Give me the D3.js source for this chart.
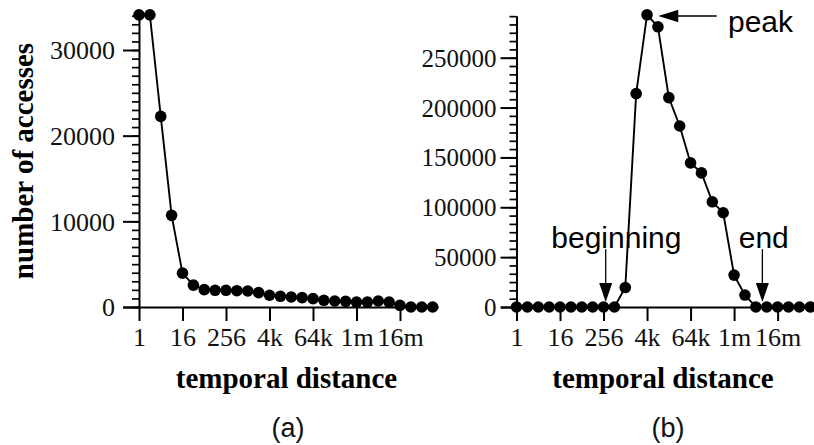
<!DOCTYPE html>
<html>
<head>
<meta charset="utf-8">
<script src="https://cdn.jsdelivr.net/npm/d3@7"></script>
<style>
  html, body { margin: 0; padding: 0; background: #fff; }
  svg { display: block; }
</style>
</head>
<body>
<script>
// ---------- data ----------
const exponents = [0,1,2,3,4,5,6,7,8,9,10,11,12,13,14,15,16,17,18,19,20,21,22,23,24,25,26,27];
const seriesA = [34100, 34100, 22250, 10700, 3950, 2550, 2030, 1950, 1950, 1900, 1870, 1680, 1370, 1250,
                 1170, 1090, 980, 780, 700, 660, 580, 580, 700, 580, 190, 0, 0, 0];
const seriesB = [0, 0, 0, 0, 0, 0, 0, 0, 0, 0, 19500, 214000, 293000, 281000, 210000, 181500, 144500,
                 134500, 105500, 94500, 32000, 12000, 0, 0, 0, 0, 0, 0];
const xTickExponents = [0, 4, 8, 12, 16, 20, 24];
const xTickLabels = ["1", "16", "256", "4k", "64k", "1m", "16m"];
const yTicksA = [0, 10000, 20000, 30000];
const yTicksB = [0, 50000, 100000, 150000, 200000, 250000];
const panelLabels = ["(a)", "(b)"];
const yTitle = "number of accesses";
const xTitle = "temporal distance";

// ---------- drawing ----------
const W = 814, H = 445;
const svg = d3.select("body").append("svg").attr("width", W).attr("height", H);
svg.append("rect").attr("width", W).attr("height", H).attr("fill", "#fff");

const serif = "'Liberation Serif', 'Times New Roman', serif";
const sans = "'Liberation Sans', Arial, sans-serif";

function drawPanel(opt) {
  const g = svg.append("g");
  const x = opt.x, y = opt.y;

  // minor y ticks
  g.append("g")
    .attr("transform", `translate(${x(0)},0)`)
    .call(d3.axisLeft(y).tickValues(opt.minorTicks).tickSize(7).tickSizeOuter(0).tickFormat(""))
    .call(a => a.select(".domain").remove())
    .call(a => a.selectAll("line").attr("stroke", "#000").attr("stroke-width", 1.7));

  // major y ticks + domain
  g.append("g")
    .attr("transform", `translate(${x(0)},0)`)
    .attr("font-family", serif)
    .call(d3.axisLeft(y).tickValues(opt.yTicks).tickSize(16).tickSizeOuter(0)
      .tickPadding(opt.yPad).tickFormat(d3.format("d")))
    .call(a => a.select(".domain").attr("stroke", "#000").attr("stroke-width", 2))
    .call(a => a.selectAll("line").attr("stroke", "#000").attr("stroke-width", 2))
    .call(a => a.selectAll("text").style("font-family", serif).style("font-size", opt.yFont + "px")
      .attr("fill", "#111").attr("dy", "0.34em"));

  // x axis
  g.append("g")
    .attr("transform", `translate(0,${y(0)})`)
    .call(d3.axisBottom(x).tickValues(xTickExponents).tickSize(14).tickSizeOuter(0)
      .tickFormat((d, i) => xTickLabels[i]))
    .call(a => a.select(".domain").attr("stroke", "#000").attr("stroke-width", 2))
    .call(a => a.selectAll("line").attr("stroke", "#000").attr("stroke-width", 2))
    .call(a => a.selectAll("text").style("font-family", serif).style("font-size", "26px")
      .attr("fill", "#111").attr("y", 39).attr("dy", null));

  // line
  const line = d3.line().x((d, i) => x(exponents[i])).y(d => y(d));
  g.append("path").datum(opt.series)
    .attr("d", line).attr("fill", "none").attr("stroke", "#000").attr("stroke-width", 1.9);

  // markers
  g.selectAll("circle.pt").data(opt.series).join("circle")
    .attr("class", "pt")
    .attr("cx", (d, i) => x(exponents[i]))
    .attr("cy", d => y(d))
    .attr("r", 5.8)
    .attr("fill", "#000");

  // x title
  g.append("text")
    .attr("x", opt.titleX).attr("y", 388)
    .attr("text-anchor", "middle")
    .style("font-family", serif).style("font-weight", "bold").style("font-size", "29px")
    .attr("fill", "#000")
    .text(xTitle);

  // panel label
  g.append("text")
    .attr("x", opt.labelX).attr("y", 437)
    .attr("text-anchor", "middle")
    .style("font-family", sans).style("font-size", "27px")
    .attr("fill", "#111")
    .text(opt.label);
  return g;
}

// Panel (a)
const stepA = 261 / 24;
const xA = d3.scaleLinear().domain([-1.47, 27.5]).range([139 - 1.47 * stepA, 139 + 27.5 * stepA]);
const yA = d3.scaleLinear().domain([0, 34400]).range([307, 307 - 34400 * 257 / 30000]);
drawPanel({
  x: xA, y: yA, series: seriesA, yTicks: yTicksA,
  minorTicks: d3.range(0, 34001, 1000), yPad: 8, yFont: 26,
  titleX: 286.5, labelX: 288, label: panelLabels[0]
});

svg.append("text")
  .attr("transform", "translate(33,161) rotate(-90)")
  .attr("text-anchor", "middle")
  .style("font-family", serif).style("font-weight", "bold").style("font-size", "29px")
  .attr("fill", "#000")
  .text(yTitle);

// Panel (b)
const stepB = 261.1 / 24;
const xB = d3.scaleLinear().domain([-1.47, 28]).range([516.5 - 1.47 * stepB, 516.5 + 28 * stepB]);
const yB = d3.scaleLinear().domain([0, 292000]).range([307, 307 - 292000 * 249.3 / 250000]);
const gB = drawPanel({
  x: xB, y: yB, series: seriesB, yTicks: yTicksB,
  minorTicks: d3.range(0, 292000, 50000 / 6), yPad: 4, yFont: 25,
  titleX: 663, labelX: 668, label: panelLabels[1]
});

// annotations (in data units)
function arrowHead(tip, dir, len, half) {
  if (dir === "left")
    return `M${tip[0]},${tip[1]}L${tip[0] + len},${tip[1] - half}L${tip[0] + len},${tip[1] + half}Z`;
  return `M${tip[0]},${tip[1]}L${tip[0] - half},${tip[1] - len}L${tip[0] + half},${tip[1] - len}Z`;
}
const ann = gB.append("g");
// peak
const peakTip = [xB(13.03), yB(291800)];
ann.append("line").attr("x1", xB(18.4)).attr("y1", peakTip[1]).attr("x2", peakTip[0] + 18).attr("y2", peakTip[1])
  .attr("stroke", "#000").attr("stroke-width", 1.3);
ann.append("path").attr("d", arrowHead(peakTip, "left", 20, 6.3)).attr("fill", "#000");
ann.append("text").attr("x", xB(19.44)).attr("y", yB(276100))
  .style("font-family", sans).style("font-size", "30px").attr("fill", "#000").text("peak");

// beginning & end
[{label: "beginning", tx: 9.18, ax: 8.2}, {label: "end", tx: 22.73, ax: 22.6}].forEach(a => {
  ann.append("text").attr("x", xB(a.tx)).attr("y", yB(58900)).attr("text-anchor", "middle")
    .style("font-family", sans).style("font-size", "30px").attr("fill", "#000").text(a.label);
  const tip = [xB(a.ax), yB(5000)];
  ann.append("line").attr("x1", tip[0]).attr("y1", yB(58000)).attr("x2", tip[0]).attr("y2", tip[1] - 18)
    .attr("stroke", "#000").attr("stroke-width", 1.3);
  ann.append("path").attr("d", arrowHead(tip, "down", 19, 6.5)).attr("fill", "#000");
});
</script>
</body>
</html>
